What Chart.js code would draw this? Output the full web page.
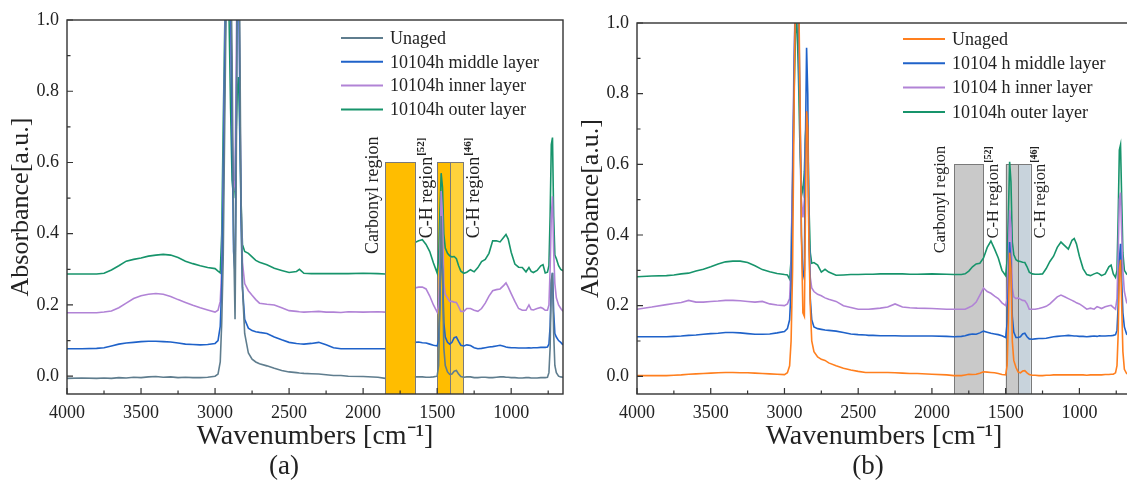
<!DOCTYPE html>
<html>
<head>
<meta charset="utf-8">
<script src="https://cdn.jsdelivr.net/npm/chart.js"></script>
<style>
  html, body { margin: 0; padding: 0; background: #fff; }
  body { width: 1127px; height: 485px; overflow: hidden; position: relative; }
  canvas { position: absolute; top: 0; }
  .cap { position: absolute; top: 450px; font-family: 'Liberation Serif', 'Times New Roman', serif; font-size: 27px; color: #222; transform: translateX(-50%); }
</style>
</head>
<body>
<canvas id="ca" width="575" height="485" style="left:0px"></canvas>
<canvas id="cb" width="575" height="485" style="left:570px"></canvas>
<div class="cap" style="left:284px">(a)</div>
<div class="cap" style="left:868px">(b)</div>
<script>
// ---------- DATA ----------
const wavenumbers = [
  4000, 3900, 3800, 3750, 3700, 3650, 3600, 3550, 3500, 3450,
  3400, 3350, 3300, 3250, 3200, 3150, 3100, 3050, 3000, 2980,
  2965, 2955, 2945, 2935, 2925, 2915, 2905, 2895, 2885, 2875,
  2865, 2858, 2850, 2842, 2835, 2825, 2815, 2800, 2775, 2750,
  2725, 2700, 2650, 2600, 2550, 2500, 2450, 2430, 2400, 2350,
  2300, 2250, 2200, 2150, 2100, 2000, 1900, 1850, 1800, 1775,
  1750, 1725, 1700, 1675, 1650, 1625, 1600, 1575, 1550, 1525,
  1500, 1490, 1482, 1473, 1464, 1455, 1445, 1430, 1415, 1400,
  1385, 1370, 1355, 1340, 1320, 1300, 1275, 1250, 1225, 1200,
  1175, 1150, 1125, 1100, 1075, 1050, 1035, 1020, 1000, 975,
  950, 925, 900, 880, 865, 850, 825, 800, 785, 770,
  755, 745, 737, 729, 721, 713, 705, 695, 680, 665,
  650
];

// Panel (a)
const aUnaged = [
  -0.006, -0.005, -0.006, -0.005, -0.006, -0.004, -0.005, -0.003, -0.004, -0.002,
  -0.001, -0.003, -0.002, -0.004, -0.003, -0.004, -0.004, -0.003, 0.0, 0.006,
  0.04, 0.15, 0.33, 0.7, 1.05, 1.3, 1.3, 1.2, 0.9, 0.4,
  0.16, 0.5, 1.1, 1.3, 1.1, 0.5, 0.25, 0.12, 0.065, 0.048,
  0.04, 0.035, 0.029, 0.022, 0.016, 0.012, 0.01, 0.009, 0.008, 0.007,
  0.006, 0.004, 0.002, 0.002, 0.0, -0.001, -0.003, -0.006, -0.006, -0.005,
  -0.004, -0.003, -0.004, -0.003, -0.002, -0.002, -0.002, -0.003, -0.003, -0.002,
  0.0, 0.03, 0.2, 0.45, 0.3, 0.08, 0.03, 0.012, 0.005, 0.006,
  0.014, 0.016, 0.006, -0.001, -0.003, -0.002, -0.002, -0.004, -0.004, -0.003,
  -0.003, -0.004, -0.004, -0.003, -0.002, -0.002, -0.003, -0.003, -0.004, -0.004,
  -0.005, -0.005, -0.004, -0.004, -0.005, -0.005, -0.005, -0.004, -0.004, -0.004,
  -0.003, 0.01, 0.08, 0.27, 0.29, 0.12, 0.03, 0.01, 0.0, -0.002,
  -0.003
];
const aMiddle = [
  0.077, 0.077, 0.078, 0.08, 0.085, 0.09, 0.093, 0.095, 0.097, 0.098,
  0.098, 0.097, 0.096, 0.093, 0.09, 0.089, 0.088, 0.089, 0.092, 0.1,
  0.14, 0.25, 0.5, 0.85, 1.1, 1.3, 1.3, 1.1, 0.7, 0.35,
  0.29, 0.6, 1.1, 1.2, 0.9, 0.45, 0.25, 0.16, 0.135, 0.128,
  0.125, 0.123, 0.12, 0.11, 0.102, 0.095, 0.092, 0.091, 0.09, 0.092,
  0.095, 0.088, 0.08, 0.077, 0.077, 0.077, 0.077, 0.077, 0.079, 0.082,
  0.085, 0.088, 0.086, 0.09, 0.095, 0.096, 0.094, 0.093, 0.09, 0.087,
  0.085, 0.1, 0.2, 0.36, 0.3, 0.15, 0.11, 0.095, 0.09, 0.095,
  0.108, 0.11, 0.098, 0.087, 0.085, 0.088, 0.086, 0.08, 0.077, 0.078,
  0.08, 0.082, 0.083, 0.085, 0.087, 0.084, 0.082, 0.081, 0.08, 0.08,
  0.079, 0.079, 0.079, 0.08, 0.079, 0.08, 0.08, 0.081, 0.081, 0.081,
  0.082, 0.09, 0.14, 0.26, 0.29, 0.18, 0.12, 0.11, 0.1, 0.095,
  0.088
];
const aInner = [
  0.178, 0.178, 0.178, 0.18, 0.183, 0.192, 0.205, 0.218, 0.226, 0.23,
  0.232, 0.23, 0.224, 0.215, 0.207, 0.199, 0.192, 0.186, 0.18, 0.185,
  0.21, 0.3, 0.55, 0.9, 1.15, 1.3, 1.25, 1.0, 0.7, 0.52,
  0.55, 0.85, 1.2, 1.25, 0.9, 0.5, 0.32, 0.26, 0.24, 0.227,
  0.215, 0.205, 0.202, 0.2, 0.192, 0.184, 0.182, 0.181, 0.18, 0.181,
  0.182, 0.18, 0.18, 0.179, 0.181, 0.18, 0.181, 0.18, 0.18, 0.182,
  0.19, 0.207, 0.204, 0.225, 0.248, 0.25, 0.25, 0.245, 0.225, 0.2,
  0.18, 0.2, 0.3, 0.52, 0.45, 0.26, 0.23, 0.22, 0.21, 0.21,
  0.208, 0.207, 0.195, 0.182, 0.182, 0.19, 0.19, 0.185, 0.182, 0.19,
  0.205, 0.225, 0.24, 0.243, 0.245, 0.255, 0.262, 0.25, 0.232, 0.21,
  0.19, 0.185, 0.185, 0.2, 0.187, 0.186, 0.19, 0.193, 0.19, 0.185,
  0.185, 0.2, 0.3, 0.45, 0.505, 0.35, 0.26, 0.22, 0.2, 0.19,
  0.182
];
const aOuter = [
  0.287, 0.287, 0.287, 0.289, 0.298, 0.31, 0.323, 0.328, 0.332, 0.337,
  0.34, 0.342, 0.34, 0.333, 0.323, 0.316, 0.31, 0.305, 0.302, 0.295,
  0.29, 0.4, 0.7, 0.97, 1.2, 1.25, 1.0, 0.75, 0.55, 0.5,
  0.56, 0.68, 0.8, 0.84, 0.72, 0.5, 0.37, 0.35, 0.345, 0.335,
  0.325, 0.32, 0.313, 0.303, 0.297, 0.291, 0.294, 0.3, 0.289, 0.288,
  0.288, 0.288, 0.288, 0.288, 0.288, 0.289, 0.288, 0.287, 0.287, 0.29,
  0.315, 0.327, 0.32, 0.345, 0.375, 0.38, 0.383, 0.37, 0.35, 0.318,
  0.29, 0.33, 0.45, 0.57, 0.53, 0.4, 0.36, 0.345, 0.338, 0.335,
  0.336, 0.33, 0.31, 0.295, 0.289, 0.292, 0.299, 0.293, 0.305, 0.322,
  0.328, 0.345, 0.38, 0.38, 0.377, 0.39, 0.398, 0.385, 0.348, 0.315,
  0.306, 0.305, 0.293, 0.305, 0.294, 0.291, 0.297, 0.31, 0.313, 0.29,
  0.292, 0.31, 0.45, 0.65, 0.67, 0.45, 0.34, 0.33, 0.31, 0.3,
  0.296
];

// Panel (b)
const bUnaged = [
  0.002, 0.002, 0.002, 0.003, 0.004, 0.006, 0.007, 0.008, 0.009, 0.01,
  0.011, 0.011, 0.01, 0.01, 0.009, 0.008, 0.007, 0.006, 0.005, 0.01,
  0.03, 0.1, 0.3, 0.75, 1.1, 1.25, 1.15, 0.8, 0.4, 0.18,
  0.17, 0.45, 0.75, 0.7, 0.4, 0.2, 0.1, 0.07, 0.055, 0.048,
  0.045, 0.038, 0.03, 0.023, 0.018, 0.014, 0.011, 0.011, 0.011, 0.011,
  0.011, 0.01, 0.009, 0.008, 0.008, 0.006, 0.004, 0.002, 0.002, 0.004,
  0.006, 0.005, 0.006, 0.009, 0.013, 0.012, 0.011, 0.01, 0.008, 0.005,
  0.004, 0.03, 0.15, 0.35, 0.3, 0.1, 0.045, 0.025, 0.012, 0.01,
  0.015, 0.016, 0.01, 0.005, 0.003, 0.003, 0.002, 0.002, 0.003, 0.003,
  0.004, 0.004, 0.004, 0.004, 0.004, 0.004, 0.004, 0.004, 0.004, 0.004,
  0.003, 0.004, 0.004, 0.004, 0.004, 0.004, 0.005, 0.005, 0.006, 0.006,
  0.01, 0.03, 0.12, 0.3, 0.33, 0.2, 0.07, 0.02, 0.008, 0.005,
  0.004
];
const bMiddle = [
  0.112, 0.112, 0.112, 0.113, 0.114, 0.116, 0.117, 0.119, 0.121, 0.122,
  0.124, 0.124, 0.123, 0.121, 0.119, 0.119, 0.12, 0.123, 0.127, 0.135,
  0.16, 0.25, 0.5, 0.85, 1.1, 1.25, 1.1, 0.75, 0.4, 0.28,
  0.3, 0.65, 0.93, 0.8, 0.45, 0.22, 0.16, 0.14, 0.135, 0.133,
  0.131, 0.13, 0.128, 0.124, 0.12, 0.118, 0.117, 0.116, 0.116, 0.115,
  0.115, 0.115, 0.114, 0.114, 0.114, 0.114, 0.113, 0.112, 0.113, 0.115,
  0.118, 0.12, 0.119, 0.123, 0.128, 0.125, 0.122, 0.12, 0.118, 0.115,
  0.11, 0.15, 0.25, 0.38, 0.32, 0.17, 0.125, 0.11, 0.11, 0.112,
  0.12, 0.122, 0.112, 0.106, 0.105, 0.106, 0.107, 0.107, 0.108, 0.11,
  0.112, 0.113, 0.114, 0.115, 0.116, 0.115, 0.114, 0.114, 0.113, 0.113,
  0.112, 0.113, 0.114, 0.113, 0.115, 0.114, 0.114, 0.115, 0.115, 0.116,
  0.118, 0.13, 0.2, 0.33, 0.375, 0.27, 0.18, 0.14, 0.12, 0.115,
  0.113
];
const bInner = [
  0.19, 0.196, 0.203, 0.206, 0.209, 0.215, 0.21, 0.21, 0.212, 0.213,
  0.215, 0.215, 0.214, 0.212, 0.21, 0.212, 0.205, 0.202, 0.2, 0.205,
  0.22, 0.32, 0.6, 0.9, 1.1, 1.2, 1.0, 0.75, 0.5, 0.45,
  0.5, 0.65, 0.75, 0.68, 0.42, 0.28, 0.25, 0.24, 0.232, 0.228,
  0.222, 0.218, 0.212, 0.2, 0.195, 0.19, 0.19, 0.19, 0.191, 0.193,
  0.196, 0.205, 0.196, 0.194, 0.193, 0.192, 0.19, 0.19, 0.19, 0.19,
  0.195, 0.2, 0.21, 0.23, 0.25, 0.24, 0.235, 0.227, 0.22, 0.208,
  0.2, 0.22, 0.32, 0.47, 0.42, 0.25, 0.225, 0.22, 0.222, 0.218,
  0.215, 0.214, 0.205, 0.19, 0.19, 0.19, 0.192, 0.195, 0.198, 0.205,
  0.215, 0.225, 0.23, 0.225, 0.22, 0.215, 0.212, 0.208, 0.205, 0.198,
  0.19, 0.193, 0.19, 0.197, 0.195, 0.192, 0.197, 0.2, 0.201, 0.195,
  0.19, 0.22, 0.35, 0.5, 0.52, 0.4, 0.3, 0.24, 0.21, 0.2,
  0.195
];
const bOuter = [
  0.282, 0.284, 0.285, 0.287, 0.29, 0.292, 0.298, 0.303, 0.31, 0.318,
  0.324, 0.326, 0.326, 0.322, 0.313, 0.302, 0.296, 0.291, 0.288, 0.287,
  0.275, 0.33, 0.55, 0.8, 0.97, 1.0, 0.85, 0.65, 0.54, 0.52,
  0.58, 0.68, 0.735, 0.7, 0.5, 0.35, 0.32, 0.322, 0.315, 0.295,
  0.303, 0.295, 0.286, 0.287, 0.288, 0.288, 0.289, 0.289, 0.289, 0.29,
  0.29, 0.29, 0.29, 0.289, 0.289, 0.29, 0.289, 0.288, 0.288, 0.29,
  0.298, 0.31, 0.318, 0.32, 0.335, 0.365, 0.383, 0.36, 0.335, 0.3,
  0.285, 0.33, 0.45, 0.607, 0.55, 0.38, 0.345, 0.33, 0.326, 0.325,
  0.323, 0.322, 0.31, 0.295, 0.29, 0.289, 0.289, 0.29, 0.305, 0.325,
  0.34, 0.365, 0.38, 0.37, 0.36, 0.385, 0.39, 0.375, 0.34, 0.305,
  0.288, 0.285, 0.29, 0.293, 0.29, 0.285, 0.29, 0.31, 0.315, 0.29,
  0.28, 0.3, 0.45, 0.64, 0.655, 0.5, 0.35, 0.3, 0.29, 0.285,
  0.282
];

const aSeriesLabels = ['Unaged', '10104h middle layer', '10104h inner layer', '10104h outer layer'];
const bSeriesLabels = ['Unaged', '10104 h middle layer', '10104 h inner layer', '10104h outer layer'];

const regionNames = ['Carbonyl region', 'C-H region', 'C-H region'];
const regionRefs = ['', '[52]', '[46]'];
const regionTop = 0.6;
const aRegionFrom = [1850, 1500, 1410];
const aRegionTo = [1650, 1410, 1325];
const bRegionFrom = [1850, 1500, 1415];
const bRegionTo = [1650, 1415, 1330];
const aLabelAt = [1900, 1534, 1220];   // wavenumber of text baseline
const aLabelStart = [0.343, 0.387, 0.387];
const bLabelAt = [1910, 1552, 1234];
const bLabelStart = [0.348, 0.39, 0.39];

const xAxisMin = 650, xAxisMax = 4000;
const yAxisMin = -0.05, yAxisMax = 1.0;

// ---------- RENDERING ----------
const SERIF = "'Liberation Serif', 'Times New Roman', serif";
const INK = '#222';

function drawRegions(chart, p, onTop) {
  const ctx = chart.ctx, xs = chart.scales.x, ys = chart.scales.y, ca = chart.chartArea;
  ctx.save();
  ctx.beginPath(); ctx.rect(ca.left, ca.top, ca.right - ca.left, ca.bottom - ca.top); ctx.clip();
  for (let i = 0; i < p.from.length; i++) {
    if (!!p.onTop[i] !== onTop) continue;
    const x1 = xs.getPixelForValue(p.from[i]), x2 = xs.getPixelForValue(p.to[i]);
    const y1 = ys.getPixelForValue(regionTop), y2 = ca.bottom;
    ctx.fillStyle = p.fills[i];
    ctx.fillRect(x1, y1, x2 - x1, y2 - y1);
    ctx.strokeStyle = '#7a7a7a'; ctx.lineWidth = 1;
    ctx.strokeRect(Math.round(x1) + 0.5, Math.round(y1) + 0.5, Math.round(x2 - x1), Math.round(y2 - y1) + 2);
  }
  ctx.restore();
}

function drawRegionLabels(chart, p) {
  const ctx = chart.ctx, xs = chart.scales.x, ys = chart.scales.y;
  ctx.save();
  ctx.fillStyle = INK;
  for (let i = 0; i < regionNames.length; i++) {
    const x = xs.getPixelForValue(p.labelAt[i]);
    const y = ys.getPixelForValue(p.labelStart[i]);
    ctx.save();
    ctx.translate(x, y);
    ctx.rotate(-Math.PI / 2);
    ctx.font = p.labelSize + 'px ' + SERIF;
    ctx.textBaseline = 'alphabetic'; ctx.textAlign = 'left';
    ctx.fillText(regionNames[i], 0, 0);
    const w = ctx.measureText(regionNames[i]).width;
    if (regionRefs[i]) {
      ctx.font = 'bold ' + Math.round(p.labelSize * 0.62) + 'px ' + SERIF;
      ctx.fillText(regionRefs[i], w + 1, -p.labelSize * 0.45);
    }
    ctx.restore();
  }
  ctx.restore();
}

function drawFrame(chart) {
  const ctx = chart.ctx, xs = chart.scales.x, ys = chart.scales.y, ca = chart.chartArea;
  ctx.save();
  ctx.strokeStyle = '#333'; ctx.lineWidth = 1.4;
  ctx.strokeRect(ca.left, ca.top, ca.right - ca.left, ca.bottom - ca.top);
  ctx.lineWidth = 1.2;
  ctx.beginPath();
  xs.ticks.forEach(t => {
    const px = xs.getPixelForValue(t.value);
    const len = (t.value % 500 === 0) ? 6 : 3.5;
    ctx.moveTo(px, ca.bottom); ctx.lineTo(px, ca.bottom - len);
  });
  ys.ticks.forEach(t => {
    const py = ys.getPixelForValue(t.value);
    const len = (Math.round(t.value * 10) % 2 === 0) ? 6 : 3.5;
    ctx.moveTo(ca.left, py); ctx.lineTo(ca.left + len, py);
  });
  ctx.stroke();
  ctx.restore();
}

function drawLegend(chart, p) {
  const ctx = chart.ctx;
  ctx.save();
  ctx.font = '18px ' + SERIF;
  ctx.textBaseline = 'middle'; ctx.textAlign = 'left';
  chart.data.datasets.forEach((ds, i) => {
    const y = p.legendY0 + i * p.legendDy;
    ctx.strokeStyle = ds.borderColor; ctx.lineWidth = 2;
    ctx.beginPath(); ctx.moveTo(p.legendX, y); ctx.lineTo(p.legendX + 42, y); ctx.stroke();
    ctx.fillStyle = INK;
    ctx.fillText(ds.label, p.legendX + 49, y + 1);
  });
  ctx.restore();
}

function makePanel(canvasId, p) {
  const datasets = p.series.map((s, i) => ({
    label: p.labels[i],
    data: wavenumbers.map((w, k) => ({ x: w, y: s[k] })),
    borderColor: p.colors[i],
    borderWidth: 1.6,
    pointRadius: 0,
    tension: 0,
    fill: false
  }));
  const overlay = {
    id: 'overlay_' + canvasId,
    beforeDatasetsDraw(chart) { drawRegions(chart, p, false); },
    afterDatasetsDraw(chart) {
      drawRegions(chart, p, true);
      drawRegionLabels(chart, p);
      drawFrame(chart);
      drawLegend(chart, p);
    }
  };
  return new Chart(document.getElementById(canvasId), {
    type: 'line',
    data: { datasets },
    plugins: [overlay],
    options: {
      responsive: false,
      animation: false,
      devicePixelRatio: 1,
      layout: { padding: { left: 0, right: p.padRight, top: p.padTop, bottom: 32 } },
      plugins: { legend: { display: false }, tooltip: { enabled: false } },
      scales: {
        x: {
          type: 'linear', reverse: true, min: xAxisMin, max: xAxisMax,
          grid: { display: false, drawTicks: false }, border: { display: false },
          ticks: {
            stepSize: 250, includeBounds: false, autoSkip: false, maxRotation: 0, padding: 8,
            color: INK, font: { family: SERIF, size: 18 },
            callback: v => (v % 500 === 0 ? String(v) : '')
          },
          title: { display: true, text: 'Wavenumbers [cm\u207B\u00B9]', color: INK,
                   font: { family: SERIF, size: 28 }, padding: { top: 0, bottom: 0 } },
          afterFit: s => { s.height = 59; }
        },
        y: {
          type: 'linear', min: yAxisMin, max: yAxisMax,
          grid: { display: false, drawTicks: false }, border: { display: false },
          ticks: {
            stepSize: 0.1, includeBounds: false, autoSkip: false, padding: 8,
            color: INK, font: { family: SERIF, size: 18 },
            callback: v => (Math.round(v * 10) % 2 === 0 ? v.toFixed(1) : '')
          },
          title: { display: true, text: 'Absorbance[a.u.]', color: INK,
                   font: { family: SERIF, size: 26 }, padding: { top: 6, bottom: 0 } },
          afterFit: s => { s.width = 67; }
        }
      }
    }
  });
}

makePanel('ca', {
  series: [aUnaged, aMiddle, aInner, aOuter],
  labels: aSeriesLabels,
  colors: ['#5f7d8e', '#1f62c9', '#b183d6', '#17946b'],
  from: aRegionFrom, to: aRegionTo,
  fills: ['#ffbd00', '#ffbd00', '#ffd23c'],
  onTop: [true, false, false],
  labelAt: aLabelAt, labelStart: aLabelStart, labelSize: 18,
  legendX: 341, legendY0: 38, legendDy: 23.8,
  padTop: 20, padRight: 12
});

makePanel('cb', {
  series: [bUnaged, bMiddle, bInner, bOuter],
  labels: bSeriesLabels,
  colors: ['#ff7f1e', '#1f62c9', '#b183d6', '#17946b'],
  from: bRegionFrom, to: bRegionTo,
  fills: ['#c9c9c9', '#c9c9c9', '#c8d3dc'],
  onTop: [false, false, false],
  labelAt: bLabelAt, labelStart: bLabelStart, labelSize: 16.5,
  legendX: 333, legendY0: 39, legendDy: 24.3,
  padTop: 23, padRight: 14
});
</script>
</body>
</html>
